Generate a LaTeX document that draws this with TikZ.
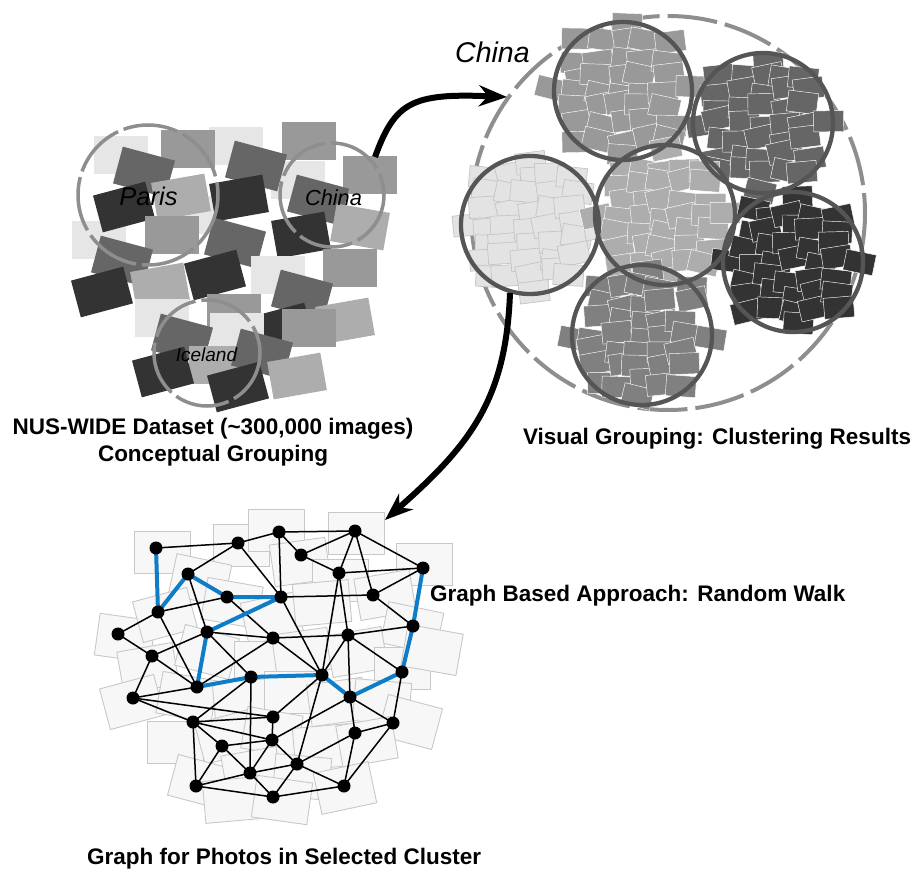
\documentclass[tikz,border=0pt]{standalone}
\usepackage{fontspec}
\setmainfont{Liberation Sans}
\usetikzlibrary{arrows.meta}
\definecolor{cL}{HTML}{E6E6E6}
\definecolor{cA}{HTML}{ADADAD}
\definecolor{cM}{HTML}{999999}
\definecolor{cD}{HTML}{666666}
\definecolor{cK}{HTML}{333333}
\definecolor{ringc}{HTML}{8E8E8E}
\definecolor{cringc}{HTML}{555555}
\definecolor{walkc}{HTML}{0E7CC6}
\definecolor{tileF}{HTML}{F7F7F7}
\definecolor{tileD}{HTML}{C8C8C8}
\definecolor{lcF}{HTML}{E3E3E3}
\definecolor{lcD}{HTML}{C4C4C4}
\definecolor{ccTop}{HTML}{999999}
\definecolor{ccTR}{HTML}{666666}
\definecolor{ccMid}{HTML}{ADADAD}
\definecolor{ccR}{HTML}{333333}
\definecolor{ccB}{HTML}{808080}
\newcommand{\photo}[4]{\fill[#4,shift={(#1,#2)},rotate=#3] (-27,-19) rectangle (27,19);}
\newcommand{\gtile}[3]{\filldraw[fill=tileF,draw=tileD,line width=0.9pt,shift={(#1,#2)},rotate=#3] (-28,-21) rectangle (28,21);}
\newcommand{\clusterrects}[6]{%
 \pgfmathsetseed{#5}
 \foreach \gx in {-66,-44,...,66}{
  \foreach \gy in {-64,-48,...,64}{
   \pgfmathtruncatemacro\cins{((\gx)*(\gx)+(\gy)*(\gy))<=4400}
   \ifnum\cins=1
    \pgfmathsetmacro\cpx{#1+\gx+6*rand}
    \pgfmathsetmacro\cpy{#2+\gy+5*rand}
    \pgfmathsetmacro\crt{14*rand}
    \filldraw[fill=#3,draw=#4,line width=#6,shift={(\cpx,\cpy)},rotate=\crt] (-15,-10.5) rectangle (15,10.5);
   \fi}}}
\tikzset{
  gnode/.style={circle,fill=black,inner sep=0pt,minimum size=13pt},
  gedge/.style={black,line width=1.5pt},
  walk/.style={walkc,line width=4pt,line join=round,line cap=round},
  lbl/.style={font=\fontsize{22.5}{26}\selectfont\bfseries,inner sep=0pt},
  dsring/.style={ringc,line width=3.5pt,dash pattern=on 55pt off 6pt},
  bigring/.style={ringc,line width=4pt,dash pattern=on 50pt off 8pt},
  clring/.style={cringc,line width=4.3pt},
  bigarrow/.style={line width=6pt,-{Stealth[length=28pt,width=21pt,inset=9pt]}}
}
\begin{document}
\begin{tikzpicture}[x=1pt,y=-1pt]
\useasboundingbox (0,0) rectangle (923,869);
% ---------- dataset photos ----------
\photo{121}{155}{0}{cL}
\photo{236}{146}{0}{cL}
\photo{188}{149}{0}{cM}
\photo{309}{141}{0}{cM}
\photo{298}{180}{0}{cL}
\photo{370}{175}{0}{cM}
\photo{144}{172}{-15}{cD}
\photo{256}{166}{-15}{cD}
\photo{99}{240}{0}{cL}
\photo{200}{215}{0}{cL}
\photo{181}{197}{10}{cA}
\photo{124}{207}{15}{cK}
\photo{239}{198}{10}{cK}
\photo{318}{200}{-15}{cD}
\photo{360}{227}{-10}{cA}
\photo{172}{235}{0}{cM}
\photo{301}{235}{10}{cK}
\photo{235}{243}{-15}{cD}
\photo{278}{275}{0}{cL}
\photo{350}{268}{0}{cM}
\photo{122}{261}{-15}{cD}
\photo{215}{275}{15}{cK}
\photo{102}{292}{15}{cK}
\photo{160}{286}{10}{cA}
\photo{302}{295}{-15}{cD}
\photo{162}{318}{0}{cL}
\photo{234}{313}{0}{cM}
\photo{283}{328}{15}{cK}
\photo{345}{321}{10}{cA}
\photo{309}{328}{0}{cM}
\photo{237}{332}{0}{cL}
\photo{182}{339}{-15}{cD}
\photo{216}{365}{0}{cA}
\photo{262}{354}{-15}{cD}
\photo{163}{372}{15}{cK}
\photo{297}{376}{10}{cA}
\photo{238}{387}{15}{cK}
% dataset rings
\draw[dsring] (148,195) circle[radius=70];
\draw[dsring] (332,195) circle[radius=52];
\draw[dsring] (207,353) circle[radius=53];
\node[font=\fontsize{25.5}{28}\selectfont\itshape,anchor=base] (lparis) at (148.5,206) {Paris};
\node[font=\fontsize{21.8}{24}\selectfont\itshape,anchor=base] (lchina) at (333.5,205) {China};
\node[font=\fontsize{19}{22}\selectfont\itshape,anchor=base] (liceland) at (206.5,361) {Iceland};
% ---------- clusters ----------
\draw[bigring] (668,213) circle[radius=197];
\clusterrects{530}{225}{lcF}{lcD}{11}{0.7pt}
\clusterrects{623}{91}{ccTop}{white}{23}{0.45pt}
\clusterrects{763}{123}{ccTR}{white}{37}{0.45pt}
\clusterrects{665}{215}{ccMid}{white}{41}{0.45pt}
\clusterrects{793}{262}{ccR}{white}{53}{0.45pt}
\clusterrects{642}{335}{ccB}{white}{67}{0.45pt}
\draw[clring] (623,91) circle[radius=69];
\draw[clring] (763,123) circle[radius=70];
\draw[clring] (530,225) circle[radius=69];
\draw[clring] (665,215) circle[radius=70];
\draw[clring] (793,262) circle[radius=70];
\draw[clring] (642,335) circle[radius=70];
\node[font=\fontsize{28.5}{30}\selectfont\itshape,anchor=base west,inner sep=0pt] (lchinabig) at (455,63) {China};
% ---------- arrows ----------
\coordinate (a1s) at (375,157);
\coordinate (a1e) at (507,97);
\coordinate (a2s) at (510,293);
\coordinate (a2e) at (385,520);
\draw[bigarrow] (a1s) .. controls (395,102) and (412,93) .. (a1e);
\draw[bigarrow] (a2s) .. controls (506,400) and (470,445) .. (a2e);
% ---------- graph tiles ----------
\gtile{162}{552}{0}
\gtile{241}{545}{0}
\gtile{276}{530}{0}
\gtile{356}{533}{0}
\gtile{424}{564}{0}
\gtile{200}{580}{-12}
\gtile{300}{562}{8}
\gtile{340}{580}{0}
\gtile{385}{595}{10}
\gtile{125}{638}{-8}
\gtile{165}{615}{15}
\gtile{232}{603}{-10}
\gtile{272}{618}{12}
\gtile{322}{603}{5}
\gtile{412}{628}{-12}
\gtile{148}{668}{10}
\gtile{207}{652}{-15}
\gtile{262}{662}{0}
\gtile{302}{652}{8}
\gtile{357}{652}{10}
\gtile{402}{668}{0}
\gtile{432}{650}{-10}
\gtile{132}{702}{15}
\gtile{187}{697}{-10}
\gtile{242}{702}{5}
\gtile{292}{692}{0}
\gtile{337}{702}{8}
\gtile{382}{702}{-5}
\gtile{410}{722}{-15}
\gtile{175}{742}{0}
\gtile{227}{737}{15}
\gtile{272}{732}{-10}
\gtile{322}{747}{5}
\gtile{367}{742}{10}
\gtile{200}{782}{-15}
\gtile{252}{772}{10}
\gtile{302}{777}{-5}
\gtile{345}{788}{12}
\gtile{232}{800}{5}
\gtile{282}{800}{-8}
% ---------- graph nodes ----------
\foreach \n/\x/\y in {A/156/548, B/238/543, C/279/532, D/355/531, E/188/574, F/301/555, G/339/573, H/423/568, I/227/597, J/158/612, K/281/597, L/373/595, M/118/634, N/207/632, O/273/638, P/348/635, Q/413/626, R/152/656, S/197/687, T/251/677, U/133/698, V/322/675, W/402/672, X/350/697, Y/193/722, Z/273/717, a/222/746, b/272/740, c/355/733, d/393/723, e/250/773, f/297/764, g/196/786, h/273/797, i/344/786}
  \coordinate (\n) at (\x,\y);
\foreach \u/\v in {A/B, B/C, C/D, D/H, C/F, C/K, F/D, F/G, D/G, D/L, G/H, H/L, G/V, G/P, B/E, B/K, K/L, K/V, E/N, J/I, J/M, M/R, I/O, N/O, R/N, J/S, L/Q, O/P, P/Q, O/V, P/V, P/X, P/W, V/Z, V/f, X/b, X/c, X/d, W/d, c/d, c/i, d/i, f/i, f/c, f/b, f/h, h/i, e/f, R/S, R/U, U/S, S/O, N/T, T/e, U/Z, U/Y, Y/T, Y/Z, Y/b, Y/a, Y/g, a/g, a/b, a/e, g/e, g/h, e/h, e/b, Z/b}
  \draw[gedge] (\u) -- (\v);
\draw[walk] (A) -- (J) -- (E) -- (I) -- (K) -- (N) -- (S) -- (T) -- (V) -- (X) -- (W) -- (Q) -- (H);
\foreach \n in {A,B,C,D,E,F,G,H,I,J,K,L,M,N,O,P,Q,R,S,T,U,V,W,X,Y,Z,a,b,c,d,e,f,g,h,i}
  \node[gnode] (g\n) at (\n) {};
% ---------- labels ----------
\node[lbl,anchor=base] (t1) at (213,434) {NUS-WIDE Dataset (\textasciitilde300,000 images)};
\node[lbl,anchor=base] (t2) at (213,461) {Conceptual Grouping};
\node[lbl,anchor=base] (t3) at (717,444) {Visual Grouping: Clustering Results};
\node[lbl,anchor=base west] (t4) at (430,601) {Graph Based Approach: Random Walk};
\node[lbl,anchor=base west] (t5) at (87,864) {Graph for Photos in Selected Cluster};
\end{tikzpicture}
\end{document}
